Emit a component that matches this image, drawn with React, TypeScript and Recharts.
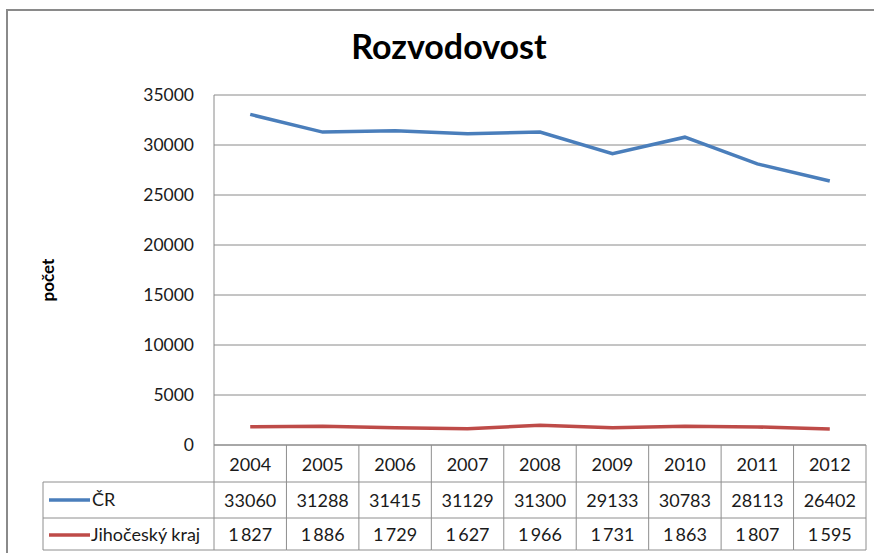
import React from 'react';
import { LineChart, Line, XAxis, YAxis, CartesianGrid } from 'recharts';

const TITLE = 'Rozvodovost';
const Y_LABEL = 'počet';
const YEARS = ['2004', '2005', '2006', '2007', '2008', '2009', '2010', '2011', '2012'];
const CR_NAME = 'ČR';
const CR_VALUES = [33060, 31288, 31415, 31129, 31300, 29133, 30783, 28113, 26402];
const JC_NAME = 'Jihočeský kraj';
const JC_VALUES = [1827, 1886, 1729, 1627, 1966, 1731, 1863, 1807, 1595];
const Y_TICKS = [0, 5000, 10000, 15000, 20000, 25000, 30000, 35000];

const data = YEARS.map((y, i) => ({ year: y, cr: CR_VALUES[i], jc: JC_VALUES[i] }));

const W = 874;
const H = 553;
const M_TOP = 95;
const M_RIGHT = 8;
const Y_AXIS_W = 214;
const X_AXIS_H = 108;
const PLOT_W = W - M_RIGHT - Y_AXIS_W;
const FONT = 'Lato, "Open Sans", sans-serif';
const BLUE = '#4A7EBB';
const RED = '#BE4B48';
const LINE_C = '#8e8e8e';
const TABLE_LEFT = 43;

const fmtThin = (v: number) => {
  const s = String(v);
  return s.length > 3 ? s.slice(0, s.length - 3) + '\u2009' + s.slice(s.length - 3) : s;
};

const TableTick = (props: any) => {
  const { x, y, index } = props;
  const colW = PLOT_W / YEARS.length;
  const left = x - colW / 2;
  const right = x + colW / 2;
  const top = y;
  const r1 = top + 37;
  const r2 = top + 73;
  const r3 = top + 105;
  const ts = { fontFamily: FONT, fontSize: 18, fill: '#1a1a1a' } as any;
  return (
    <g>
      <line x1={left} y1={top} x2={left} y2={r3} stroke={LINE_C} strokeWidth={1} />
      {index === YEARS.length - 1 && (
        <line x1={right} y1={top} x2={right} y2={r3} stroke={LINE_C} strokeWidth={1} />
      )}
      <line x1={left} y1={r1} x2={right} y2={r1} stroke={LINE_C} strokeWidth={1} />
      <line x1={left} y1={r2} x2={right} y2={r2} stroke={LINE_C} strokeWidth={1} />
      <line x1={left} y1={r3} x2={right} y2={r3} stroke={LINE_C} strokeWidth={1} />
      <text x={x} y={top + 19} textAnchor="middle" dominantBaseline="central" {...ts}>{YEARS[index]}</text>
      <text x={x} y={r1 + 18} textAnchor="middle" dominantBaseline="central" {...ts}>{String(CR_VALUES[index])}</text>
      <text x={x} y={r2 + 16} textAnchor="middle" dominantBaseline="central" {...ts}>{fmtThin(JC_VALUES[index])}</text>
      {index === 0 && (
        <g>
          <line x1={TABLE_LEFT} y1={r1} x2={left} y2={r1} stroke={LINE_C} strokeWidth={1} />
          <line x1={TABLE_LEFT} y1={r2} x2={left} y2={r2} stroke={LINE_C} strokeWidth={1} />
          <line x1={TABLE_LEFT} y1={r3} x2={left} y2={r3} stroke={LINE_C} strokeWidth={1} />
          <line x1={TABLE_LEFT} y1={r1} x2={TABLE_LEFT} y2={r3} stroke={LINE_C} strokeWidth={1} />
          <line x1={TABLE_LEFT + 6} y1={r1 + 18} x2={TABLE_LEFT + 47} y2={r1 + 18} stroke={BLUE} strokeWidth={3.5} />
          <text x={TABLE_LEFT + 49} y={r1 + 17} textAnchor="start" dominantBaseline="central" {...ts}>{CR_NAME}</text>
          <line x1={TABLE_LEFT + 6} y1={r2 + 17} x2={TABLE_LEFT + 47} y2={r2 + 17} stroke={RED} strokeWidth={3.5} />
          <text x={TABLE_LEFT + 48} y={r2 + 16} textAnchor="start" dominantBaseline="central" {...ts}>{JC_NAME}</text>
        </g>
      )}
    </g>
  );
};

export default function App() {
  return (
    <div style={{ position: 'absolute', left: 0, top: 0, width: W, height: H, overflow: 'hidden', background: '#fff' }}>
      <div style={{ position: 'absolute', left: 6, top: 9, width: W + 20, height: H + 20, border: '2px solid #8a8a8a', boxSizing: 'border-box' }} />
      <div style={{ position: 'absolute', left: 0, width: 898, top: 25, textAlign: 'center', fontFamily: FONT, fontWeight: 'bold', fontSize: 34, color: '#000' }}>{TITLE}</div>
      <div style={{ position: 'absolute', left: 47, top: 280, width: 0, height: 0 }}>
        <div style={{ position: 'absolute', transform: 'translate(-50%, -50%) rotate(-90deg)', fontFamily: FONT, fontWeight: 'bold', fontSize: 17, color: '#000', whiteSpace: 'nowrap' }}>{Y_LABEL}</div>
      </div>
      <div style={{ position: 'absolute', left: 0, top: 0 }}>
        <LineChart width={W} height={H} data={data} margin={{ top: M_TOP, right: M_RIGHT, left: 0, bottom: 0 }}>
          <CartesianGrid vertical={false} stroke="#8a8a8a" strokeWidth={1} />
          <XAxis dataKey="year" scale="band" height={X_AXIS_H} interval={0} tickLine={false} tickSize={0} tickMargin={0} axisLine={{ stroke: '#8a8a8a' }} tick={<TableTick />} />
          <YAxis width={Y_AXIS_W} domain={[0, 35000]} ticks={Y_TICKS} interval={0} tickLine={false} tickMargin={14} axisLine={{ stroke: '#8a8a8a' }} tick={{ fontFamily: FONT, fontSize: 17.5, fill: '#1a1a1a' }} />
          <Line dataKey="cr" stroke={BLUE} strokeWidth={3.5} dot={false} isAnimationActive={false} />
          <Line dataKey="jc" stroke={RED} strokeWidth={3.5} dot={false} isAnimationActive={false} />
        </LineChart>
      </div>
    </div>
  );
}
